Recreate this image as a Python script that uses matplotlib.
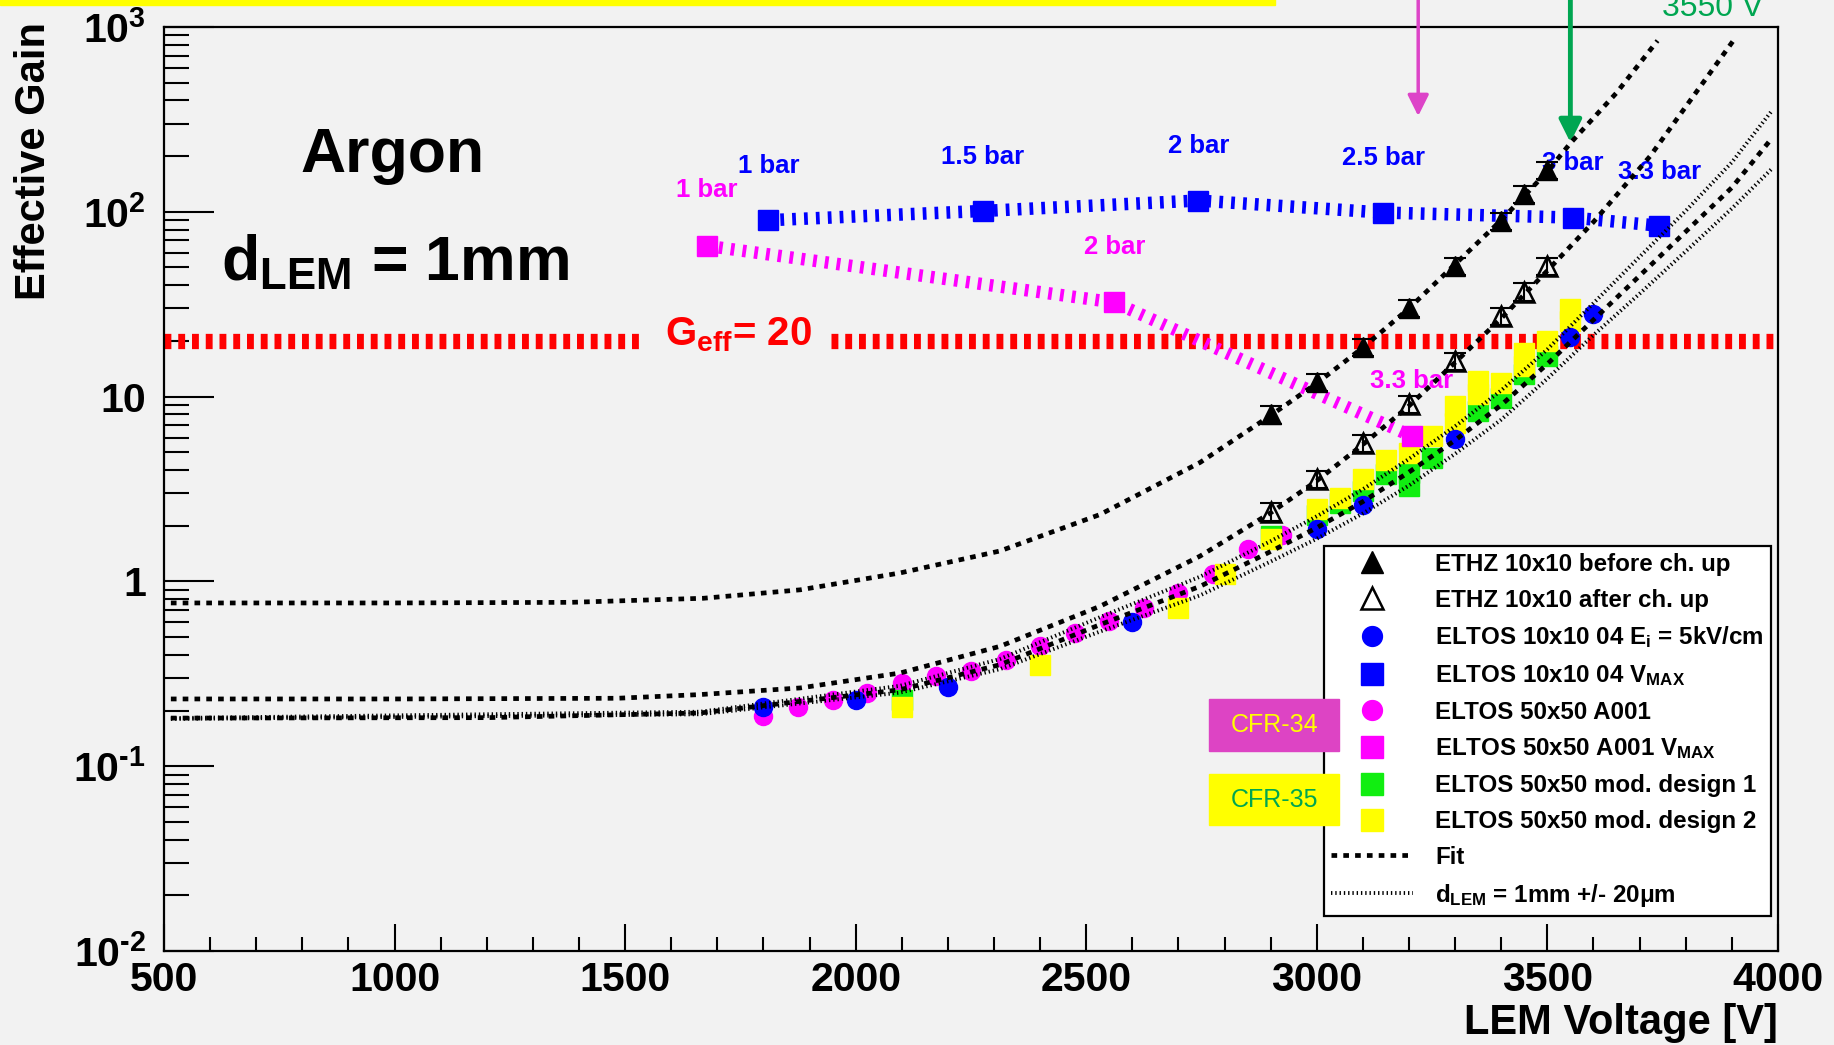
import matplotlib
matplotlib.use("Agg")
import matplotlib.pyplot as plt
from matplotlib.patches import Rectangle
from matplotlib.ticker import FixedLocator, FixedFormatter, MultipleLocator, NullFormatter

plt.rcParams['font.family'] = ['Liberation Sans', 'DejaVu Sans']
plt.rcParams['font.weight'] = 'bold'
plt.rcParams['axes.labelweight'] = 'bold'
plt.rcParams['mathtext.fontset'] = 'custom'
plt.rcParams['mathtext.rm'] = 'Liberation Sans:bold'
plt.rcParams['mathtext.bf'] = 'Liberation Sans:bold'
plt.rcParams['mathtext.it'] = 'Liberation Sans:bold'
plt.rcParams['mathtext.default'] = 'bf'

# ---- data (LEM voltage [V], effective gain) ----
ethz_v = [2900, 3000, 3100, 3200, 3300, 3400, 3450, 3500]
ethz_before = [8.0, 12.0, 18.6, 30.0, 51.0, 89.0, 124.0, 169.0]
ethz_before_err = [0.9, 1.3, 2.0, 3.2, 5.5, 9.5, 13.0, 18.0]
ethz_after = [2.38, 3.58, 5.63, 9.1, 15.6, 27.2, 37.0, 51.0]
ethz_after_err = [0.26, 0.38, 0.6, 1.0, 1.7, 2.9, 4.0, 5.5]

eltos10_v = [1800, 2000, 2200, 2600, 3000, 3100, 3300, 3550, 3600]
eltos10_g = [0.208, 0.227, 0.267, 0.604, 1.91, 2.60, 5.88, 20.9, 28.0]

vmax10_v = [1811, 2276, 2743, 3144, 3555, 3743]
vmax10_g = [90, 101, 115, 99, 93, 84]
vmax10_bar = ["1 bar", "1.5 bar", "2 bar", "2.5 bar", "3 bar", "3.3 bar"]

a001_v = [1800, 1875, 1950, 2025, 2100, 2175, 2250, 2325, 2400, 2475,
          2550, 2625, 2700, 2775, 2850, 2925]
a001_g = [0.186, 0.210, 0.227, 0.248, 0.282, 0.308, 0.326, 0.377, 0.445, 0.526,
          0.608, 0.718, 0.865, 1.09, 1.49, 1.79]

vmax50_v = [1678, 2561, 3206]
vmax50_g = [65.4, 32.3, 6.1]
vmax50_bar = ["1 bar", "2 bar", "3.3 bar"]

mod1_v = [2100, 2900, 3000, 3050, 3100, 3150, 3200, 3200, 3250, 3350, 3400, 3450, 3500]
mod1_g = [0.229, 1.75, 2.3, 2.66, 3.08, 3.79, 3.27, 3.87, 4.66, 8.35, 9.86, 13.2, 16.6]
mod2_v = [2100, 2400, 2700, 2800, 2900, 3000, 3050, 3100, 3150, 3200, 3250, 3300, 3300,
          3350, 3350, 3400, 3450, 3450, 3500, 3550, 3550]
mod2_g = [0.208, 0.354, 0.718, 1.10, 1.70, 2.45, 2.83, 3.56, 4.53, 4.96, 6.1, 7.2, 8.9,
          10.3, 12.1, 11.9, 14.6, 17.3, 20.0, 25.7, 29.7]

# fit curves
fit_before_v = [515, 1000, 1383, 1670, 1880, 2096, 2313, 2530, 2747, 2900, 3000, 3100,
                3200, 3300, 3400, 3500, 3550, 3650, 3739]
fit_before_g = [0.764, 0.764, 0.77, 0.81, 0.90, 1.11, 1.46, 2.3, 4.4, 7.9, 11.8, 18.4,
                30, 52, 90, 165, 235, 440, 843]
fit_after_v = [515, 1000, 1483, 1663, 1880, 2096, 2313, 2530, 2747, 2900, 3000, 3100,
               3200, 3300, 3400, 3500, 3600, 3723, 3906]
fit_after_g = [0.231, 0.231, 0.233, 0.244, 0.265, 0.319, 0.445, 0.733, 1.37, 2.35, 3.5, 5.5,
               8.9, 15.3, 26.5, 48, 88, 200, 861]
fit_eltos_v = [515, 1200, 1663, 2096, 2313, 2530, 2747, 2900, 3000, 3100, 3200, 3300,
               3400, 3500, 3600, 3700, 3800, 3900, 3983]
fit_eltos_g = [0.182, 0.183, 0.194, 0.259, 0.354, 0.583, 0.94, 1.45, 1.95, 2.7, 3.9, 5.8,
               9.0, 15, 26, 45, 78, 135, 243]
band_v = [515, 1663, 2096, 2313, 2530, 2747, 2900, 3000, 3100, 3200, 3300, 3400,
          3500, 3600, 3700, 3800, 3900, 3987]
band_hi = [0.182, 0.197, 0.272, 0.38, 0.64, 1.06, 1.65, 2.25, 3.15, 4.6, 6.9, 10.8,
           18, 32, 57, 101, 185, 352]
band_lo = [0.180, 0.191, 0.250, 0.335, 0.535, 0.84, 1.28, 1.70, 2.33, 3.3, 4.9, 7.5,
           12.5, 21.5, 36, 61, 104, 171]

geff = 20
geff_left = [500, 1540]
geff_right = [1946, 4000]
arrow_pink_v = 3220
arrow_green_v = 3550

bg = '#F2F2F2'
green = '#11EE11'
pink_arrow = '#DD44C8'
dark_green = '#00A651'

fig = plt.figure(figsize=(18.34, 10.45), dpi=100, facecolor=bg)
ax = fig.add_axes([0.0894, 0.0900, 0.8800, 0.8842], facecolor=bg)

fit_ls = (0, (1.2, 1.3))
band_ls = (0, (0.35, 0.75))
bar_ls = (0, (0.3, 0.65))

# G_eff = 20 reference line
ax.plot(geff_left, [geff, geff], color='red', lw=11, ls=(0, (0.45, 0.45)), zorder=2)
ax.plot(geff_right, [geff, geff], color='red', lw=11, ls=(0, (0.45, 0.45)), zorder=2)
ax.text(1745, 18.8, r'G$_{\mathrm{eff}}$= 20', color='red', fontsize=29,
        ha='center', va='baseline', zorder=2)

# V_MAX pressure scans
ax.plot(vmax10_v, vmax10_g, color='blue', lw=9, ls=bar_ls, zorder=3)
ax.plot(vmax50_v, vmax50_g, color='magenta', lw=9, ls=bar_ls, zorder=3)
h_vmax10, = ax.plot(vmax10_v, vmax10_g, 's', color='blue', ms=14, zorder=3.5)
h_vmax50, = ax.plot(vmax50_v, vmax50_g, 's', color='magenta', ms=14, zorder=3.5)
for v, g, t in zip(vmax10_v, vmax10_g, vmax10_bar):
    ax.annotate(t, (v, g), xytext=(0, 39), textcoords='offset points', ha='center',
                va='center', color='blue', fontsize=18.5)
for v, g, t in zip(vmax50_v, vmax50_g, vmax50_bar):
    ax.annotate(t, (v, g), xytext=(0, 40), textcoords='offset points', ha='center',
                va='center', color='magenta', fontsize=18.5)

# measurements
h_a001, = ax.plot(a001_v, a001_g, 'o', color='magenta', ms=13, zorder=3)
h_mod1, = ax.plot(mod1_v, mod1_g, 's', color=green, ms=15, zorder=3)
h_mod2, = ax.plot(mod2_v, mod2_g, 's', color='yellow', ms=15, zorder=3.1)
h_el10, = ax.plot(eltos10_v, eltos10_g, 'o', color='blue', ms=13, zorder=3.2)
ax.errorbar(ethz_v, ethz_before, yerr=ethz_before_err, fmt='none', ecolor='black',
            elinewidth=1.5, capsize=8, capthick=1.5, zorder=3)
ax.errorbar(ethz_v, ethz_after, yerr=ethz_after_err, fmt='none', ecolor='black',
            elinewidth=1.5, capsize=8, capthick=1.5, zorder=3)
h_before, = ax.plot(ethz_v, ethz_before, '^', color='black', ms=15, zorder=3.3)
h_after, = ax.plot(ethz_v, ethz_after, '^', mfc='none', mec='black', mew=1.8, ms=15,
                   zorder=3.3)

# fits
h_fit, = ax.plot(fit_before_v, fit_before_g, color='black', lw=3.4, ls=fit_ls, zorder=4)
ax.plot(fit_after_v, fit_after_g, color='black', lw=3.4, ls=fit_ls, zorder=4)
ax.plot(fit_eltos_v, fit_eltos_g, color='black', lw=3.4, ls=fit_ls, zorder=4)
h_band, = ax.plot(band_v, band_hi, color='black', lw=2.8, ls=band_ls, zorder=4)
ax.plot(band_v, band_lo, color='black', lw=2.8, ls=band_ls, zorder=4)

ax.set_yscale('log')
ax.set_xlim(500, 4000)
ax.set_ylim(1e-2, 1e3)
ax.xaxis.set_major_locator(MultipleLocator(500))
ax.xaxis.set_minor_locator(MultipleLocator(100))
ax.yaxis.set_major_locator(FixedLocator([1e-2, 1e-1, 1, 10, 1e2, 1e3]))
ax.yaxis.set_major_formatter(FixedFormatter([r'$10^{\text{-}2}$', r'$10^{\text{-}1}$', '1',
                                             '10', '$10^{2}$', '$10^{3}$']))
ax.yaxis.set_minor_formatter(NullFormatter())
ax.tick_params(axis='both', which='both', direction='in', width=1.5, color='black',
               top=False, right=False)
ax.tick_params(axis='x', which='major', length=19.4, pad=7, labelsize=29.5)
ax.tick_params(axis='x', which='minor', length=10)
ax.tick_params(axis='y', which='major', length=36, pad=13, labelsize=29.5)
ax.tick_params(axis='y', which='minor', length=18)
for s in ax.spines.values():
    s.set_linewidth(1.6)

ax.set_xlabel('LEM Voltage [V]', fontsize=30, fontweight='bold', ha='right', va='top')
ax.xaxis.set_label_coords(1.0, -0.056)
ax.set_ylabel('Effective Gain', fontsize=30, fontweight='bold')
ax.yaxis.label.set(ha='center', va='top', rotation_mode='default')
ax.yaxis.set_label_coords(-0.0805, 1.005)

ax.text(0.1413, 0.8429, 'Argon', transform=ax.transAxes, fontsize=45,
        ha='center', va='baseline')
ax.text(0.0353, 0.7259, r'd$_{\mathrm{LEM}}$ = 1mm', transform=ax.transAxes,
        fontsize=45, ha='left', va='baseline')

handles = [h_before, h_after, h_el10, h_vmax10, h_a001, h_vmax50, h_mod1, h_mod2,
           h_fit, h_band]
labels = ['ETHZ 10x10 before ch. up', 'ETHZ 10x10 after ch. up',
          r'ELTOS 10x10 04 E$_{\mathrm{i}}$ = 5kV/cm', r'ELTOS 10x10 04 V$_{\mathrm{MAX}}$',
          'ELTOS 50x50 A001', r'ELTOS 50x50 A001 V$_{\mathrm{MAX}}$',
          'ELTOS 50x50 mod. design 1', 'ELTOS 50x50 mod. design 2', 'Fit',
          r'd$_{\mathrm{LEM}}$ = 1mm +/- 20$\mu$m']
leg = ax.legend(handles, labels, loc='upper left', bbox_to_anchor=(0.7187, 0.4388),
                borderaxespad=0, fancybox=False, framealpha=1, facecolor='white',
                edgecolor='black', fontsize=17.4, handlelength=3.4, handletextpad=0.9,
                borderpad=0.3, labelspacing=0.53, numpoints=1, markerscale=1.1)
leg.get_frame().set_linewidth(1.6)
leg.set_zorder(6)

# annotations outside the plot area
fig.patches.append(Rectangle((0, 0.9952), 0.695, 0.006, transform=fig.transFigure,
                             color='yellow', zorder=1))
ax.annotate('', xy=(arrow_pink_v, 0.9036), xycoords=('data', 'axes fraction'),
            xytext=(arrow_pink_v, 1.03), textcoords=('data', 'axes fraction'),
            arrowprops=dict(arrowstyle='-|>', color=pink_arrow, lw=2.5,
                            mutation_scale=32, shrinkA=0, shrinkB=0),
            annotation_clip=False)
ax.annotate('', xy=(arrow_green_v, 0.875), xycoords=('data', 'axes fraction'),
            xytext=(arrow_green_v, 1.035), textcoords=('data', 'axes fraction'),
            arrowprops=dict(arrowstyle='-|>', color=dark_green, lw=3.5,
                            mutation_scale=34, shrinkA=0, shrinkB=0),
            annotation_clip=False)
fig.text(0.934, 0.9847, '3550 V', color=dark_green, fontsize=23, fontweight='normal',
         ha='center', va='baseline')

fig.patches.append(Rectangle((0.6592, 0.2813), 0.0709, 0.0498, transform=fig.transFigure,
                             color='#DD44C4', zorder=7))
fig.text(0.6947, 0.3062, 'CFR-34', color='yellow', fontsize=18, fontweight='normal',
         ha='center', va='center', zorder=8)
fig.patches.append(Rectangle((0.6592, 0.2105), 0.0709, 0.0488, transform=fig.transFigure,
                             color='yellow', zorder=7))
fig.text(0.6947, 0.2349, 'CFR-35', color=dark_green, fontsize=18, fontweight='normal',
         ha='center', va='center', zorder=8)

fig.savefig('out.png', dpi=100, facecolor=bg)
